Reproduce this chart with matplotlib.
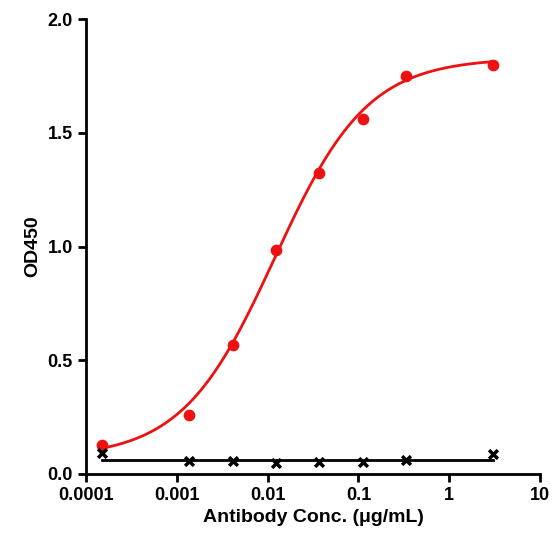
import numpy as np
import matplotlib
matplotlib.use("Agg")
import matplotlib.pyplot as plt
plt.rcParams['font.family'] = ['Liberation Sans', 'DejaVu Sans']

conc = [0.000152, 0.00137, 0.00412, 0.0123, 0.037, 0.111, 0.333, 3.0]
od_ab = [0.125, 0.26, 0.565, 0.985, 1.325, 1.56, 1.75, 1.80]
od_ctrl = [0.09, 0.055, 0.055, 0.045, 0.05, 0.05, 0.06, 0.085]
# 4PL fit parameters (bottom, top, EC50, hill)
fit_params = [0.07, 1.83, 0.012, 0.85]
ctrl_level = 0.06

fig = plt.figure(figsize=(5.54, 5.54), dpi=100)
ax = fig.add_axes([0.155, 0.145, 0.82, 0.82])
b, t, ec, h = fit_params
xs = np.logspace(np.log10(conc[0]), np.log10(conc[-1]), 300)
ax.plot(xs, b + (t - b) / (1 + (ec / xs) ** h), color="#ee1111", lw=2)
ax.scatter(conc, od_ab, color="#ee1111", s=55, zorder=3)
ax.plot([conc[0], conc[-1]], [ctrl_level, ctrl_level], color="black", lw=2)
ax.scatter(conc, od_ctrl, color="black", marker="x", s=40, linewidths=2.5, zorder=3)

ax.set_xscale("log")
ax.set_xlim(1e-4, 10)
ax.set_ylim(0, 2.0)
ax.set_xticks([1e-4, 1e-3, 1e-2, 1e-1, 1, 10])
ax.set_xticklabels(["0.0001", "0.001", "0.01", "0.1", "1", "10"])
ax.set_yticks([0, 0.5, 1.0, 1.5, 2.0])
ax.set_yticklabels(["0.0", "0.5", "1.0", "1.5", "2.0"])
ax.minorticks_off()
for s in ["top", "right"]:
    ax.spines[s].set_visible(False)
for s in ["left", "bottom"]:
    ax.spines[s].set_linewidth(2)
ax.tick_params(width=2, length=6, labelsize=13)
for lab in ax.get_xticklabels() + ax.get_yticklabels():
    lab.set_fontweight("bold")
ax.set_xlabel("Antibody Conc. (μg/mL)", fontsize=14, fontweight="bold")
ax.set_ylabel("OD450", fontsize=14, fontweight="bold")
fig.savefig("out.png", dpi=100)
